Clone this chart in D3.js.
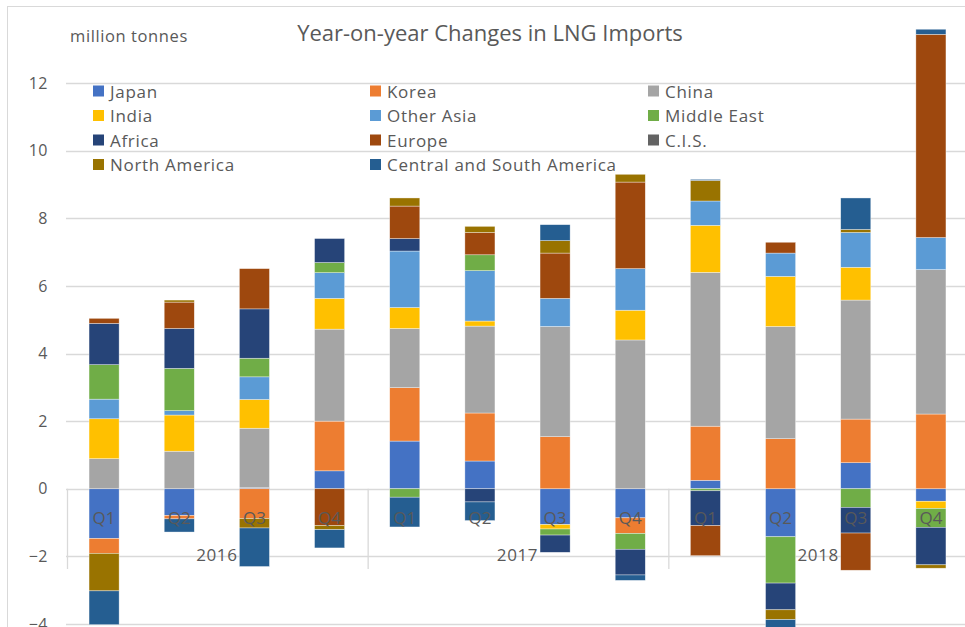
<!DOCTYPE html>
<html>
<head>
<meta charset="utf-8">
<script src="https://cdn.jsdelivr.net/npm/d3@7"></script>
<style>
  body { margin: 0; background: #fff; }
  text { font-family: "Open Sans", sans-serif; fill: #595959; }
</style>
</head>
<body>
<svg width="965" height="627"></svg>
<script>
// quarters and years on the two-level category axis
var quarters = ["Q1", "Q2", "Q3", "Q4", "Q1", "Q2", "Q3", "Q4", "Q1", "Q2", "Q3", "Q4"];
var years = ["2016", "2017", "2018"];

var seriesNames = ["Japan", "Korea", "China", "India", "Other Asia", "Middle East",
  "Africa", "Europe", "C.I.S.", "North America", "Central and South America"];
var seriesColors = ["#4472C4", "#ED7D31", "#A5A5A5", "#FFC000", "#5B9BD5", "#70AD47",
  "#264478", "#9E480E", "#636363", "#997300", "#255E91"];

// million tonnes, year-on-year change per quarter
var japan        = [-1.47, -0.79, 0.03, 0.53, 1.41, 0.82, -1.06, -0.86, 0.25, -1.42, 0.77, -0.37];
var korea        = [-0.44, -0.10, -0.88, 1.47, 1.58, 1.42, 1.54, -0.46, 1.60, 1.48, 1.29, 2.21];
var china        = [0.89, 1.11, 1.76, 2.72, 1.75, 2.57, 3.26, 4.40, 4.55, 3.32, 3.52, 4.27];
var india        = [1.18, 1.07, 0.85, 0.91, 0.62, 0.15, -0.13, 0.88, 1.39, 1.48, 0.97, -0.21];
var otherAsia    = [0.58, 0.13, 0.67, 0.76, 1.67, 1.49, 0.83, 1.23, 0.72, 0.69, 1.03, 0.95];
var middleEast   = [1.02, 1.25, 0.55, 0.30, -0.25, 0.47, -0.18, -0.47, -0.06, -1.37, -0.55, -0.56];
var africa       = [1.22, 1.18, 1.46, 0.71, 0.37, -0.39, -0.51, -0.76, -1.03, -0.79, -0.76, -1.11];
var europe       = [0.15, 0.78, 1.19, -1.09, 0.96, 0.66, 1.34, 2.56, -0.89, 0.32, -1.10, 6.01];
var cis          = [0, 0, 0, 0, 0, 0, 0, 0, 0, 0, 0, 0];
var northAmerica = [-1.11, 0.06, -0.28, -0.12, 0.24, 0.18, 0.37, 0.23, 0.61, -0.29, 0.09, -0.10];
var centralSouth = [-1.00, -0.39, -1.14, -0.54, -0.88, -0.55, 0.47, -0.16, 0.03, -0.25, 0.93, 0.15];

var yTicks = [-4, -2, 0, 2, 4, 6, 8, 10, 12];

var seriesValues = [japan, korea, china, india, otherAsia, middleEast,
  africa, europe, cis, northAmerica, centralSouth];

// one row per bar for d3.stack
var table = quarters.map(function(q, i) {
  var row = { idx: i };
  seriesNames.forEach(function(name, s) { row[name] = seriesValues[s][i]; });
  return row;
});

var svg = d3.select("svg");

// outer chart border
svg.append("rect")
    .attr("x", 7.5).attr("y", 6.5)
    .attr("width", 1000).attr("height", 700)
    .attr("fill", "none")
    .attr("stroke", "#d9d9d9");

var x = d3.scaleBand()
    .domain(d3.range(quarters.length))
    .range([66.5, 968.5])
    .paddingInner(0.6)
    .paddingOuter(0.3);

var y = d3.scaleLinear()
    .domain([-4, 12])
    .range([624, 83]);

// gridlines
svg.append("g")
  .selectAll("line")
  .data(yTicks)
  .enter().append("line")
    .attr("x1", 66).attr("x2", 965)
    .attr("y1", function(d) { return Math.round(y(d)) + 0.5; })
    .attr("y2", function(d) { return Math.round(y(d)) + 0.5; })
    .attr("stroke", "#d9d9d9")
    .attr("stroke-width", 1.3);

// value axis labels
var yAxis = svg.append("g")
    .attr("transform", "translate(48,0)")
    .call(d3.axisLeft(y).tickValues(yTicks).tickSize(0).tickPadding(0));
yAxis.select(".domain").remove();
yAxis.selectAll("text")
    .style("font-size", "16px")
    .style("letter-spacing", "0.5px")
    .attr("fill", "#595959");

var stack = d3.stack()
    .keys(seriesNames)
    .offset(d3.stackOffsetDiverging);

var layers = stack(table);

svg.append("g")
  .selectAll("g")
  .data(layers)
  .enter().append("g")
    .attr("fill", function(d, i) { return seriesColors[i]; })
  .selectAll("rect")
  .data(function(d) { return d; })
  .enter().append("rect")
    .attr("x", function(d) { return x(d.data.idx); })
    .attr("width", x.bandwidth())
    .attr("y", function(d) { return y(Math.max(d[0], d[1])); })
    .attr("height", function(d) { return Math.abs(y(d[0]) - y(d[1])); })
    .attr("stroke", "#ffffff")
    .attr("stroke-opacity", 0.6)
    .attr("stroke-width", 0.6);

// category axis: separators between the years
var sep = x.step() * 4;
svg.append("g")
  .selectAll("line")
  .data(d3.range(years.length))
  .enter().append("line")
    .attr("x1", function(d) { return 67.5 + d * sep; })
    .attr("x2", function(d) { return 67.5 + d * sep; })
    .attr("y1", y(0))
    .attr("y2", 569)
    .attr("stroke", "#d9d9d9")
    .attr("stroke-width", 1.3);

svg.append("g")
  .selectAll("text")
  .data(quarters)
  .enter().append("text")
    .attr("x", function(d, i) { return x(i) + x.bandwidth() / 2; })
    .attr("y", 524)
    .attr("text-anchor", "middle")
    .style("font-size", "17px")
    .text(function(d) { return d; });

svg.append("g")
  .selectAll("text")
  .data(years)
  .enter().append("text")
    .attr("x", function(d, i) { return 66.5 + (i + 0.5) * sep; })
    .attr("y", 561)
    .attr("text-anchor", "middle")
    .style("font-size", "17px")
    .style("letter-spacing", "0.6px")
    .text(function(d) { return d; });

// titles
svg.append("text")
    .attr("x", 490).attr("y", 41)
    .attr("text-anchor", "middle")
    .style("font-size", "22px")
    .text("Year-on-year Changes in LNG Imports");

svg.append("text")
    .attr("x", 70).attr("y", 42)
    .style("font-size", "16.5px")
    .style("letter-spacing", "0.6px")
    .text("million tonnes");

// legend, 3 columns
var legendCols = [93, 370, 648];
var legend = svg.append("g")
  .selectAll("g")
  .data(seriesNames)
  .enter().append("g")
    .attr("transform", function(d, i) {
      return "translate(" + legendCols[i % 3] + "," + (91 + Math.floor(i / 3) * 24.5) + ")";
    });

legend.append("rect")
    .attr("x", 0).attr("y", -5.5)
    .attr("width", 11).attr("height", 11)
    .attr("fill", function(d, i) { return seriesColors[i]; });

legend.append("text")
    .attr("x", 17).attr("y", 6.5)
    .style("font-size", "17px")
    .style("letter-spacing", "0.7px")
    .text(function(d) { return d; });
</script>
</body>
</html>
